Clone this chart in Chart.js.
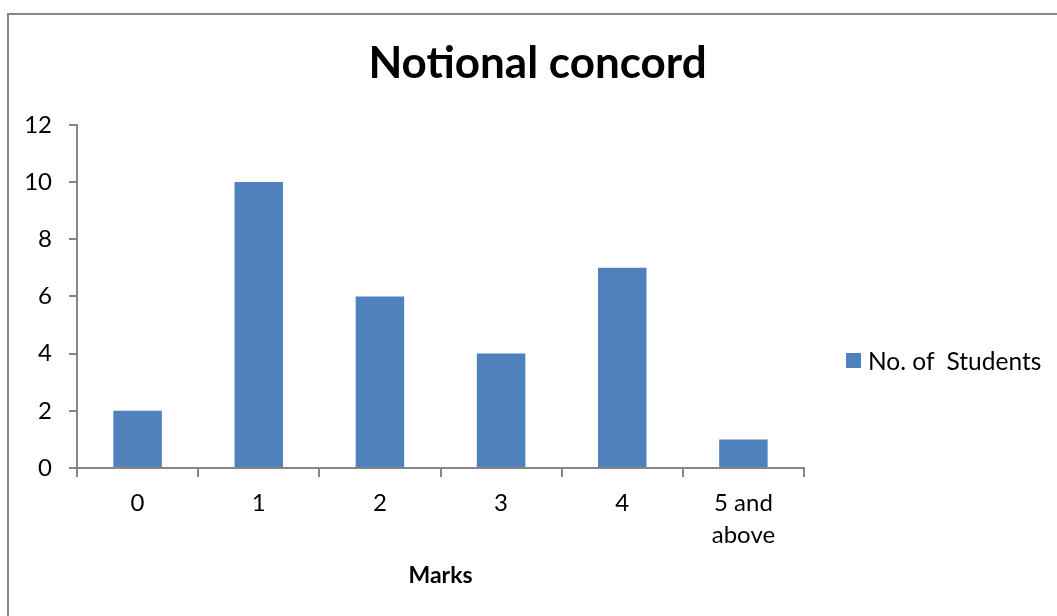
<!DOCTYPE html>
<html>
<head>
<meta charset="utf-8">
<title>Notional concord</title>
<script src="https://cdn.jsdelivr.net/npm/chart.js@4/dist/chart.umd.min.js"></script>
<style>
  html, body { margin: 0; padding: 0; background: #fff; overflow: hidden; }
  body { width: 1057px; height: 616px; position: relative; }
  /* outer chart frame, runs off the right and bottom edges */
  #frame {
    position: absolute; left: 7px; top: 13px;
    width: 1200px; height: 800px;
    border: 2px solid #878787; box-sizing: border-box;
  }
  #chart { position: absolute; left: 0; top: 0; }
  #legend {
    position: absolute; left: 846px; top: 346px; height: 28px;
    display: flex; align-items: center;
    font-family: Lato, sans-serif; font-size: 24.5px; color: #000;
    white-space: pre;
  }
  #legend .swatch { width: 15px; height: 15px; background: #4F81BD; margin-right: 7px; }
</style>
</head>
<body>
<div id="frame"></div>
<canvas id="chart" width="1075" height="616"></canvas>
<div id="legend"><span class="swatch"></span><span id="legend-text"></span></div>

<script>
// chart data
const markLabels = ['0', '1', '2', '3', '4', ['5 and', 'above']];
const studentCounts = [2, 10, 6, 4, 7, 1];
const seriesName = 'No. of  Students';
const chartTitle = 'Notional concord';
const xAxisTitle = 'Marks';
const yMin = 0;
const yMax = 12;
const yStep = 2;

const barColor = '#4F81BD';
const axisColor = '#868686';
const fontFamily = 'Lato, sans-serif';

document.getElementById('legend-text').textContent = seriesName;

const ctx = document.getElementById('chart').getContext('2d');

new Chart(ctx, {
    type: 'bar',
    data: {
        labels: markLabels,
        datasets: [{
            label: seriesName,
            data: studentCounts,
            backgroundColor: barColor,
            borderWidth: 0,
            barPercentage: 0.4,
            categoryPercentage: 1.0
        }]
    },
    options: {
        responsive: false,
        animation: false,
        layout: { padding: 0 },
        plugins: {
            legend: { display: false },
            tooltip: { enabled: false },
            title: {
                display: true,
                text: chartTitle,
                color: '#000',
                font: { family: fontFamily, size: 44, weight: 'bold', lineHeight: 1.2 },
                padding: { top: 37, bottom: 35 }
            }
        },
        scales: {
            x: {
                type: 'category',
                grid: {
                    display: true,
                    drawOnChartArea: false,
                    drawTicks: true,
                    tickLength: 9,
                    color: axisColor,
                    lineWidth: 2,
                    offset: true
                },
                border: { display: true, color: axisColor, width: 2 },
                ticks: {
                    color: '#000',
                    font: { family: fontFamily, size: 24, lineHeight: 1.33 },
                    padding: 10,
                    maxRotation: 0,
                    autoSkip: false
                },
                title: {
                    display: true,
                    text: xAxisTitle,
                    color: '#000',
                    font: { family: fontFamily, size: 23, weight: 'bold', lineHeight: 1.2 },
                    padding: { top: 0, bottom: 27 }
                },
                afterFit: (scale) => { scale.height = 148; }
            },
            y: {
                min: yMin,
                max: yMax,
                grid: {
                    display: true,
                    drawOnChartArea: false,
                    drawTicks: true,
                    tickLength: 8,
                    color: axisColor,
                    lineWidth: 2
                },
                border: { display: true, color: axisColor, width: 2 },
                ticks: {
                    stepSize: yStep,
                    color: '#000',
                    font: { family: fontFamily, size: 24 },
                    padding: 17
                },
                afterFit: (scale) => { scale.width = 77; }
            },
            // empty strip on the right that holds the legend
            legendSpace: {
                type: 'linear',
                position: 'right',
                display: true,
                grid: { display: false },
                border: { display: false },
                ticks: { display: false },
                afterFit: (scale) => { scale.width = 271; }
            }
        }
    }
});
</script>
</body>
</html>
